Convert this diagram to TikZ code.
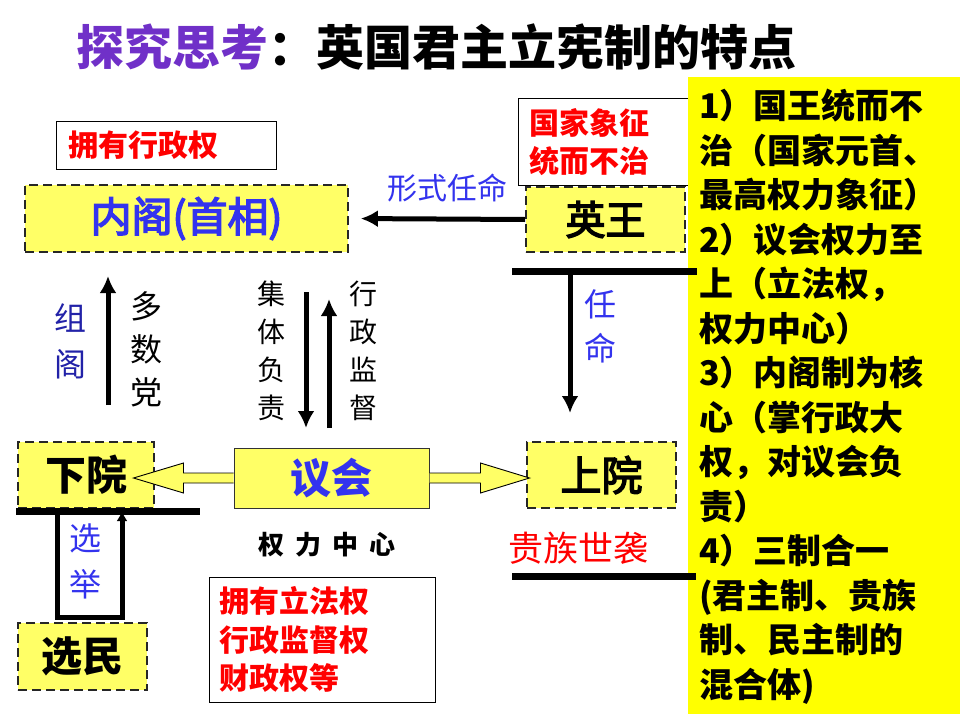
\documentclass[tikz,border=0pt]{standalone}
\usepackage{fontspec}
\setmainfont{Noto Sans CJK SC}
\newfontfamily\medf{Noto Sans CJK SC}[FakeBold=3.5]
\usetikzlibrary{arrows.meta,calc}
\definecolor{ttl}{HTML}{7030C8}
\definecolor{bluet}{HTML}{3333EE}
\definecolor{navyt}{HTML}{2222A8}
\definecolor{boxy}{HTML}{FFFF66}
\definecolor{panel}{HTML}{FFFF00}
\definecolor{redt}{HTML}{FF0000}
\tikzset{
  dbox/.style={draw=black!85, dashed, dash pattern=on 9pt off 5pt, line width=1.6pt, fill=boxy, inner sep=0pt},
  sbox/.style={draw=black!80, line width=1pt, fill=boxy, inner sep=0pt},
  wbox/.style={draw=black, line width=1pt, fill=white, inner ysep=0pt, align=left, text=redt},
  arr/.style={line width=5pt, -{Latex[length=17pt,width=17pt]}},
  bar/.style={line width=7pt},
  hollow/.style={draw=black, line width=0.9pt, fill=boxy},
  vlab/.style={align=center, inner sep=0pt},
}
\begin{document}
\begin{tikzpicture}[x=1pt,y=-1pt]
\useasboundingbox (0,0) rectangle (960,720);
\fill[white] (0,0) rectangle (960,720);
% title
\node[font=\fontsize{48}{50}\selectfont\bfseries, inner sep=0pt] (title) at (436,47) {\textcolor{ttl}{探究思考}：英国君主立宪制的特点};
% red boxes
\node[wbox, text width=196pt, inner xsep=12pt, minimum height=48pt, font=\fontsize{30}{36}\selectfont\bfseries] (exec) at (166,145) {拥有行政权};
\node[wbox, anchor=north west, text width=170pt, inner xsep=11pt, minimum height=87pt, font=\fontsize{30}{38}\selectfont\bfseries] (sym) at (518,98) {国家象征\\统而不治};
\node[wbox, text width=206pt, inner xsep=10pt, minimum height=125pt, font=\fontsize{30}{38.5}\selectfont\bfseries] (leg) at (322,639.5) {拥有立法权\\行政监督权\\财政权等};
% right panel
\fill[panel] (688,77) rectangle (960,714);
\node[anchor=north west, align=left, inner sep=0pt, font=\fontsize{34}{44.5}\selectfont\bfseries] (pts) at (699,89) {1）国王统而不\\治（国家元首、\\最高权力象征）\\2）议会权力至\\上（立法权，\\权力中心）\\3）内阁制为核\\心（掌行政大\\权，对议会负\\责）\\4）三制合一\\(君主制、贵族\\制、民主制的\\混合体)};
% main boxes
\node[dbox, minimum width=323pt, minimum height=67pt, text=bluet, font=\medf\fontsize{41}{44}\selectfont] (cab) at (186.5,218.5) {内阁(首相)};
\node[dbox, minimum width=159pt, minimum height=65pt, font=\medf\fontsize{40}{44}\selectfont] (king) at (605.5,219.5) {英王};
\node[dbox, minimum width=136pt, minimum height=66pt, font=\fontsize{41}{44}\selectfont\bfseries] (lower) at (86,475) {下院};
\node[dbox, minimum width=149pt, minimum height=66pt, font=\medf\fontsize{41}{44}\selectfont] (upper) at (601.5,475) {上院};
\node[sbox, minimum width=195pt, minimum height=60pt, text=bluet, font=\fontsize{41}{44}\selectfont\bfseries] (parl) at (331.5,478) {议会};
\node[dbox, minimum width=129pt, minimum height=67pt, font=\fontsize{41}{44}\selectfont\bfseries] (voter) at (82.5,656.5) {选民};
% labels
\node[text=bluet, font=\fontsize{30}{34}\selectfont, inner sep=0pt] (xsrm) at (447,188) {形式任命};
\node[vlab, text=navyt, font=\fontsize{32}{46}\selectfont] (zg) at (70,341) {组\\阁};
\node[vlab, font=\fontsize{32}{43}\selectfont] (dsd) at (146,349) {多\\数\\党};
\node[vlab, font=\fontsize{28}{38}\selectfont] (jtfz) at (271,351) {集\\体\\负\\责};
\node[vlab, font=\fontsize{28}{38}\selectfont] (xzjd) at (363,351) {行\\政\\监\\督};
\node[vlab, text=bluet, font=\fontsize{32}{44}\selectfont] (rm) at (600,326) {任\\命};
\node[vlab, text=bluet, font=\fontsize{32}{46}\selectfont] (xj) at (85,561) {选\\举};
\node[font=\fontsize{26}{30}\selectfont\bfseries, inner sep=0pt] (qlzx) at (327,545) {权\hspace{11pt}力\hspace{11pt}中\hspace{11pt}心};
\node[text=redt, font=\fontsize{35}{38}\selectfont, inner sep=0pt] (gzsx) at (578,548) {贵族世袭};
% bars
\coordinate (b1a) at (512,271); \coordinate (b1b) at (697,271);
\coordinate (b2a) at (16,511);  \coordinate (b2b) at (200,511);
\coordinate (b3a) at (512,576); \coordinate (b3b) at (696,576);
\draw[bar] (b1a) -- (b1b);
\draw[bar] (b2a) -- (b2b);
\draw[bar] (b3a) -- (b3b);
% arrows
\draw[arr, shorten >=12pt] (king.west) -- (cab.east);
\coordinate (rmS) at (570,275); \coordinate (rmE) at (570,413);
\draw[arr] (rmS) -- (rmE);
\coordinate (zgS) at (108,405); \coordinate (zgE) at (108,276);
\draw[arr] (zgS) -- (zgE);
\coordinate (jtS) at (306,292); \coordinate (jtE) at (306,428);
\draw[arr] (jtS) -- (jtE);
\coordinate (xzS) at (329,428); \coordinate (xzE) at (329,299);
\draw[arr] (xzS) -- (xzE);
% election frame
\coordinate (xjA) at (57,513); \coordinate (xjB) at (57,617);
\coordinate (xjC) at (122,617); \coordinate (xjD) at (122,511);
\draw[line width=5pt, line join=miter, -{Latex[length=10pt,width=11pt]}] (xjA) -- (xjB) -- (xjC) -- (xjD);
% hollow double arrows
\draw[hollow] ($(parl.west)+(0,-5)$) -- ++(-50,0) -- ++(0,-10) -- ($(parl.west)+(-100,0)$) -- ++(50,15) -- ++(0,-10) -- ($(parl.west)+(0,5)$);
\draw[hollow] ($(parl.east)+(0,-5)$) -- ++(51,0) -- ++(0,-10) -- ($(parl.east)+(100,0)$) -- ++(-49,15) -- ++(0,-10) -- ($(parl.east)+(0,5)$);
\end{tikzpicture}
\end{document}
